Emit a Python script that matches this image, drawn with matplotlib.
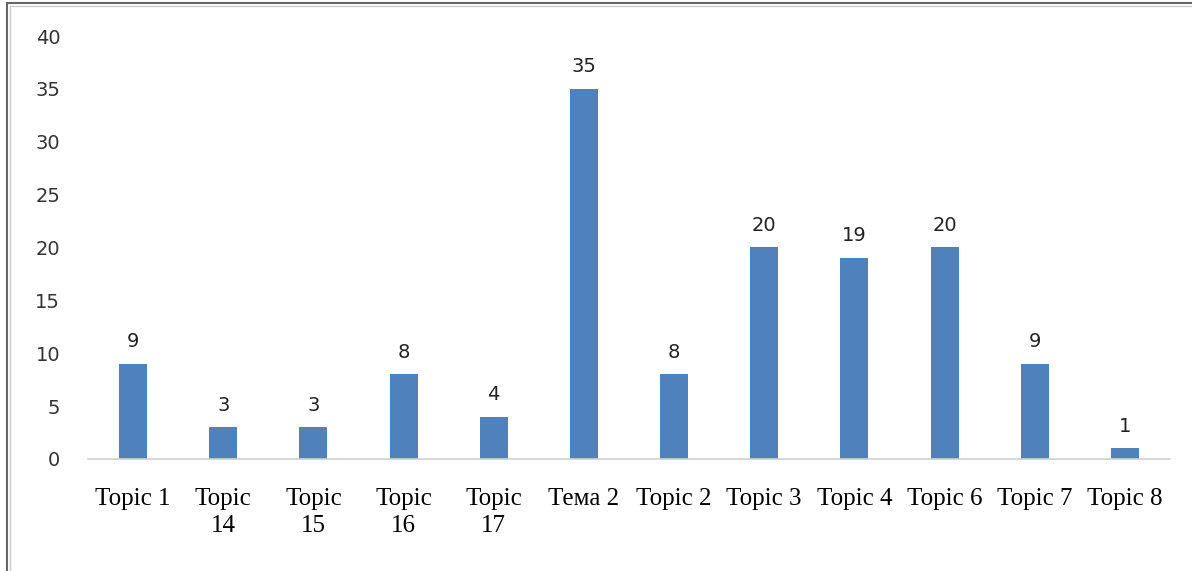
import matplotlib.pyplot as plt
from matplotlib.lines import Line2D

# data
topics = ['Topic 1', 'Topic\n14', 'Topic\n15', 'Topic\n16', 'Topic\n17', 'Тема 2',
          'Topic 2', 'Topic 3', 'Topic 4', 'Topic 6', 'Topic 7', 'Topic 8']
counts = [9, 3, 3, 8, 4, 35, 8, 20, 19, 20, 9, 1]

W, H = 1192, 571
fig = plt.figure(figsize=(W / 100, H / 100), dpi=100)
ax = fig.add_axes([88 / W, 1 - 459 / H, (1170 - 88) / W, (459 - 36) / H])

x = range(len(topics))
bars = ax.bar(x, counts, width=0.31, color='#4F81BD', zorder=2)
for b, v in zip(bars, counts):
    ax.text(b.get_x() + b.get_width() / 2, v + 1.2, str(v), ha='center', va='bottom',
            fontsize=14, family='DejaVu Sans', color='#222222')

ax.set_xlim(-0.5, len(topics) - 0.5)
ax.set_ylim(0, 40)
ax.set_yticks(range(0, 41, 5))
ax.set_xticks(list(x))
ax.set_xticklabels(topics, family='Liberation Serif', fontsize=18, linespacing=1.3)
for lab in ax.get_yticklabels():
    lab.set_fontsize(14)
    lab.set_color('#333333')
for s in ['top', 'right', 'left']:
    ax.spines[s].set_visible(False)
ax.spines['bottom'].set_color('#D0D0D0')
ax.spines['bottom'].set_linewidth(1.2)
ax.tick_params(axis='both', length=0)
ax.tick_params(axis='y', pad=20)
ax.tick_params(axis='x', pad=21)

# outer frame (left and top edges)
fig.add_artist(Line2D([7 / W, 7 / W], [0, 1 - 3 / H], color='#666666', lw=1.5, transform=fig.transFigure))
fig.add_artist(Line2D([7 / W, 1], [1 - 3 / H, 1 - 3 / H], color='#666666', lw=1.5, transform=fig.transFigure))
fig.add_artist(Line2D([10 / W, 10 / W], [0, 1 - 6 / H], color='#CCCCCC', lw=1, transform=fig.transFigure))
fig.add_artist(Line2D([10 / W, 1], [1 - 6 / H, 1 - 6 / H], color='#CCCCCC', lw=1, transform=fig.transFigure))

plt.savefig('out.png', dpi=100)
